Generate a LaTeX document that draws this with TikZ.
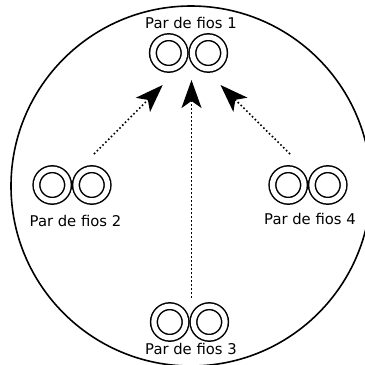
\documentclass[tikz,border=0pt]{standalone}
\usepackage{fontspec}
\setmainfont{DejaVu Sans}
\usetikzlibrary{arrows.meta}

\begin{document}
\begin{tikzpicture}[x=1pt,y=-1pt,
  wire/.style={circle,draw,line width=1.5pt,double,double distance=5.2pt,minimum size=31.6pt,inner sep=0pt,outer sep=0pt},
  tag/.style={font=\fontsize{14.8}{17}\selectfont,inner sep=0pt,anchor=base},
  flow/.style={line width=1.6pt,dash pattern=on 1.6pt off 2.4pt,-{Stealth[length=28pt,width=20pt,inset=7pt]}}]
\useasboundingbox[clip] (0,0) rectangle (365,365);
% cable sheath
\draw[line width=1.6pt] (191,186) circle[radius=180pt];
% wire pairs and their labels
\foreach \n/\x/\y/\lx/\ly in {1/188.5/53/191/28, 2/72/185/75.5/226, 3/189.5/322/191/354, 4/308/185/310/224} {
  \node[wire] (p\n a) at (\x-19.75,\y) {};
  \node[wire] (p\n b) at (\x+19.75,\y) {};
  \node[tag] (l\n) at (\lx,\ly) {Par de fios \n};
}
% crosstalk towards pair 1
\coordinate (s2) at (94,154);
\coordinate (t2) at (162.7,85);
\coordinate (s3) at (191.5,298);
\coordinate (t3) at (191.5,80);
\coordinate (s4) at (290,154);
\coordinate (t4) at (220.5,85);
\foreach \n in {2,3,4}
  \draw[flow] (s\n) -- (t\n);
\end{tikzpicture}
\end{document}
